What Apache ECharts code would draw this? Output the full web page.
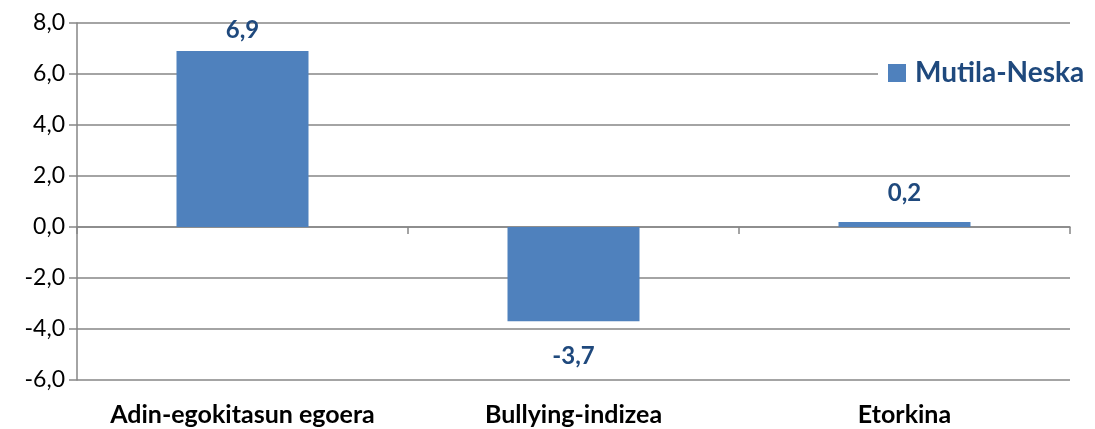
<!DOCTYPE html>
<html><head><meta charset="utf-8">
<script src="https://cdn.jsdelivr.net/npm/echarts@6/dist/echarts.min.js"></script>
<style>html,body{margin:0;padding:0;background:#fff}#c{width:1095px;height:429px}</style>
</head><body><div id="c"></div>
<script>
const categories = ['Adin-egokitasun egoera', 'Bullying-indizea', 'Etorkina'];
const seriesName = 'Mutila-Neska';
const values = [6.9, -3.7, 0.2];
const yTicks = { min: -6, max: 8, interval: 2 };

// label offsets (style only)
const labelDistance = [9, 23, 17];

const fmt = v => v.toFixed(1).replace('.', ',');
const FONT = 'Lato';
const chart = echarts.init(document.getElementById('c'));
chart.setOption({
  animation: false,
  grid: { left: 77, right: 25, top: 23, bottom: 49, containLabel: false },
  legend: {
    data: [seriesName], left: 878, top: 55, backgroundColor: '#fff',
    padding: [4, 10, 4, 10], itemWidth: 18, itemHeight: 18, icon: 'rect',
    textStyle: { fontFamily: FONT, fontWeight: 'bold', fontSize: 28, color: '#1F497D', padding: [0, 0, 0, 4] }
  },
  xAxis: [
    { type: 'category', data: categories, position: 'bottom',
      axisLine: { show: false, onZero: false }, axisTick: { show: false },
      axisLabel: { interval: 0, hideOverlap: false, margin: 22, fontFamily: FONT, fontWeight: 'bold', fontSize: 25, color: '#000' } },
    { type: 'category', data: categories, position: 'top',
      axisLine: { show: true, onZero: true, lineStyle: { color: '#868686', width: 1.5 } },
      axisTick: { show: true, inside: true, length: 7, lineStyle: { color: '#868686', width: 1.5 } },
      axisLabel: { show: false } }
  ],
  yAxis: {
    type: 'value', min: yTicks.min, max: yTicks.max, interval: yTicks.interval,
    axisLine: { show: true, lineStyle: { color: '#868686', width: 1.5 } },
    axisTick: { show: true, length: 8, lineStyle: { color: '#868686', width: 1.5 } },
    splitLine: { lineStyle: { color: '#868686', width: 1.5 } },
    axisLabel: { formatter: fmt, margin: 12, fontFamily: FONT, fontSize: 23, color: '#000' }
  },
  series: [{
    name: seriesName, type: 'bar', xAxisIndex: 0, barWidth: 132,
    itemStyle: { color: '#4F81BD' },
    data: values.map((v, i) => ({
      value: v,
      label: {
        show: true, position: v < 0 ? 'bottom' : 'top', distance: labelDistance[i],
        formatter: p => fmt(p.value),
        fontFamily: FONT, fontWeight: 'bold', fontSize: 24, color: '#1F497D'
      }
    }))
  }]
});
</script></body></html>
